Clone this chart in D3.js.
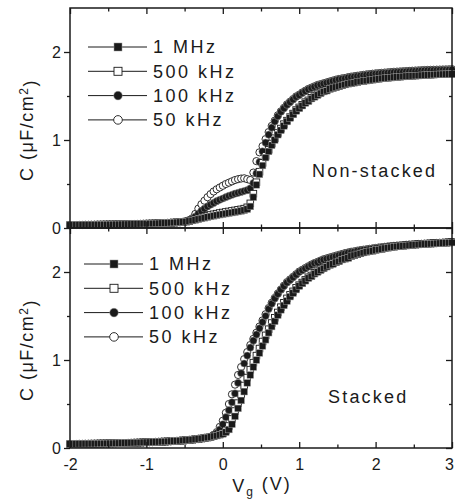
<!DOCTYPE html>
<html>
<head>
<meta charset="utf-8">
<script src="https://cdn.jsdelivr.net/npm/d3@7"></script>
<style>
  body { margin: 0; background: #fff; }
  svg text { font-family: Arial, "Liberation Sans", sans-serif; fill: #1a1a1a; }
</style>
</head>
<body>
<div id="chart"></div>
<script>
// gate voltage sweep (V)
var vg = [
  -2,-1.96,-1.92,-1.88,-1.84,-1.8,-1.76,-1.72,-1.68,-1.64,
  -1.6,-1.56,-1.52,-1.48,-1.44,-1.4,-1.36,-1.32,-1.28,-1.24,
  -1.2,-1.16,-1.12,-1.08,-1.04,-1,-0.96,-0.92,-0.88,-0.84,
  -0.8,-0.76,-0.72,-0.68,-0.64,-0.6,-0.56,-0.52,-0.48,-0.44,
  -0.4,-0.36,-0.32,-0.28,-0.24,-0.2,-0.16,-0.12,-0.08,-0.04,
  0,0.04,0.08,0.12,0.16,0.2,0.24,0.28,0.32,0.36,
  0.4,0.44,0.48,0.52,0.56,0.6,0.64,0.68,0.72,0.76,
  0.8,0.84,0.88,0.92,0.96,1,1.04,1.08,1.12,1.16,
  1.2,1.24,1.28,1.32,1.36,1.4,1.44,1.48,1.52,1.56,
  1.6,1.64,1.68,1.72,1.76,1.8,1.84,1.88,1.92,1.96,
  2,2.04,2.08,2.12,2.16,2.2,2.24,2.28,2.32,2.36,
  2.4,2.44,2.48,2.52,2.56,2.6,2.64,2.68,2.72,2.76,
  2.8,2.84,2.88,2.92,2.96,3
];

// C (uF/cm2), non-stacked
var nonStacked1MHz = [
  .033,.034,.034,.035,.035,.036,.036,.037,.037,.038,
  .038,.039,.039,.040,.040,.041,.041,.042,.043,.043,
  .044,.045,.046,.047,.048,.049,.050,.051,.052,.053,
  .055,.056,.058,.060,.062,.064,.066,.069,.072,.078,
  .085,.092,.100,.108,.116,.124,.131,.138,.145,.151,
  .157,.163,.169,.175,.181,.187,.194,.202,.214,.245,
  .35,.49,.61,.71,.80,.87,.94,1.00,1.06,1.11,
  1.16,1.21,1.25,1.29,1.33,1.36,1.39,1.42,1.44,1.47,
  1.49,1.51,1.53,1.55,1.56,1.58,1.59,1.60,1.61,1.62,
  1.63,1.64,1.645,1.65,1.66,1.665,1.67,1.675,1.68,1.685,
  1.69,1.695,1.70,1.703,1.706,1.71,1.713,1.716,1.719,1.722,
  1.725,1.727,1.729,1.731,1.733,1.735,1.737,1.739,1.741,1.743,
  1.745,1.746,1.747,1.748,1.749,1.75
];
var nonStacked500kHz = [
  .033,.034,.034,.035,.035,.036,.036,.037,.037,.038,
  .038,.039,.039,.040,.040,.041,.041,.042,.043,.043,
  .044,.045,.046,.047,.048,.049,.050,.051,.052,.053,
  .055,.056,.058,.060,.062,.064,.066,.069,.073,.080,
  .089,.099,.110,.121,.131,.140,.148,.156,.163,.170,
  .176,.182,.188,.194,.200,.206,.212,.220,.235,.28,
  .39,.52,.64,.74,.82,.89,.96,1.02,1.08,1.13,
  1.18,1.22,1.26,1.30,1.34,1.37,1.40,1.43,1.45,1.48,
  1.50,1.52,1.54,1.555,1.57,1.585,1.595,1.605,1.615,1.625,
  1.635,1.643,1.65,1.656,1.662,1.668,1.673,1.678,1.683,1.688,
  1.693,1.698,1.702,1.706,1.709,1.712,1.715,1.718,1.721,1.724,
  1.727,1.729,1.731,1.733,1.735,1.737,1.739,1.741,1.743,1.745,
  1.747,1.748,1.749,1.75,1.751,1.752
];
var nonStacked100kHz = [
  .033,.034,.034,.035,.035,.036,.036,.037,.037,.038,
  .038,.039,.039,.040,.040,.041,.041,.042,.043,.043,
  .044,.045,.046,.047,.048,.049,.050,.051,.052,.053,
  .055,.056,.058,.060,.062,.064,.066,.069,.075,.085,
  .10,.13,.165,.195,.22,.245,.265,.285,.305,.32,
  .335,.35,.365,.378,.39,.40,.41,.42,.43,.45,
  .51,.62,.75,.87,.97,1.06,1.14,1.21,1.27,1.32,
  1.36,1.40,1.43,1.46,1.49,1.51,1.535,1.555,1.575,1.59,
  1.605,1.62,1.63,1.64,1.65,1.66,1.67,1.68,1.69,1.695,
  1.70,1.71,1.715,1.72,1.725,1.73,1.735,1.74,1.744,1.748,
  1.752,1.755,1.758,1.761,1.764,1.767,1.77,1.772,1.774,1.776,
  1.778,1.78,1.782,1.784,1.786,1.788,1.79,1.791,1.792,1.793,
  1.794,1.795,1.796,1.797,1.798,1.80
];
var nonStacked50kHz = [
  .033,.034,.034,.035,.035,.036,.036,.037,.037,.038,
  .038,.039,.039,.040,.040,.041,.041,.042,.043,.043,
  .044,.045,.046,.047,.048,.049,.050,.051,.052,.053,
  .055,.056,.058,.060,.062,.064,.066,.069,.078,.09,
  .11,.16,.22,.27,.31,.35,.385,.415,.44,.46,
  .48,.50,.515,.53,.545,.555,.562,.565,.555,.545,
  .63,.76,.86,.93,1.01,1.09,1.16,1.22,1.28,1.325,
  1.365,1.405,1.435,1.465,1.495,1.515,1.54,1.56,1.58,1.595,
  1.61,1.625,1.635,1.645,1.655,1.665,1.675,1.685,1.694,1.70,
  1.705,1.714,1.72,1.725,1.73,1.735,1.74,1.745,1.749,1.753,
  1.757,1.76,1.763,1.766,1.769,1.772,1.775,1.777,1.779,1.781,
  1.783,1.785,1.787,1.789,1.791,1.793,1.795,1.796,1.797,1.798,
  1.799,1.80,1.801,1.802,1.803,1.805
];

// C (uF/cm2), stacked
var stacked1MHz = [
  .045,.046,.046,.047,.047,.048,.048,.049,.049,.050,
  .051,.051,.052,.053,.053,.054,.055,.056,.057,.058,
  .059,.060,.061,.062,.064,.065,.066,.067,.069,.070,
  .072,.073,.075,.077,.079,.081,.083,.086,.089,.092,
  .095,.099,.103,.108,.113,.119,.126,.133,.14,.15,
  .16,.18,.21,.27,.36,.45,.54,.64,.74,.83,
  .92,1.00,1.08,1.16,1.23,1.31,1.38,1.44,1.51,1.57,
  1.62,1.67,1.72,1.76,1.80,1.84,1.87,1.90,1.93,1.95,
  1.98,2.00,2.02,2.04,2.06,2.08,2.09,2.11,2.12,2.14,
  2.15,2.16,2.18,2.19,2.20,2.21,2.22,2.23,2.235,2.24,
  2.25,2.255,2.26,2.27,2.275,2.28,2.285,2.29,2.293,2.296,
  2.30,2.303,2.306,2.309,2.312,2.315,2.317,2.319,2.321,2.323,
  2.325,2.327,2.329,2.331,2.333,2.335
];
var stacked500kHz = [
  .045,.046,.046,.047,.047,.048,.048,.049,.049,.050,
  .051,.051,.052,.053,.053,.054,.055,.056,.057,.058,
  .059,.060,.061,.062,.064,.065,.066,.067,.069,.070,
  .072,.073,.075,.077,.079,.081,.083,.086,.089,.092,
  .095,.099,.103,.108,.113,.119,.126,.134,.145,.155,
  .17,.20,.25,.33,.42,.51,.61,.71,.80,.89,
  .97,1.05,1.13,1.21,1.28,1.35,1.42,1.48,1.54,1.60,
  1.65,1.70,1.74,1.78,1.82,1.85,1.88,1.91,1.94,1.96,
  1.99,2.01,2.03,2.05,2.07,2.085,2.10,2.115,2.13,2.145,
  2.155,2.165,2.185,2.195,2.205,2.215,2.225,2.233,2.24,2.245,
  2.254,2.26,2.265,2.274,2.279,2.284,2.289,2.293,2.296,2.299,
  2.303,2.306,2.309,2.312,2.315,2.318,2.32,2.322,2.324,2.326,
  2.328,2.33,2.332,2.334,2.336,2.338
];
var stacked100kHz = [
  .045,.046,.046,.047,.047,.048,.048,.049,.049,.050,
  .051,.051,.052,.053,.053,.054,.055,.056,.057,.058,
  .059,.060,.061,.062,.064,.065,.066,.067,.069,.070,
  .072,.073,.075,.077,.079,.081,.083,.086,.089,.092,
  .095,.099,.103,.108,.113,.119,.126,.15,.17,.21,
  .27,.35,.43,.52,.62,.74,.85,.96,1.05,1.14,
  1.22,1.29,1.36,1.43,1.50,1.58,1.64,1.70,1.75,1.80,
  1.84,1.88,1.91,1.94,1.97,2.00,2.02,2.04,2.06,2.08,
  2.10,2.11,2.13,2.14,2.15,2.16,2.17,2.18,2.19,2.20,
  2.21,2.22,2.225,2.23,2.24,2.245,2.25,2.255,2.26,2.265,
  2.27,2.275,2.28,2.284,2.288,2.292,2.295,2.298,2.301,2.304,
  2.307,2.31,2.312,2.314,2.316,2.318,2.32,2.322,2.324,2.326,
  2.328,2.33,2.332,2.334,2.336,2.34
];
var stacked50kHz = [
  .045,.046,.046,.047,.047,.048,.048,.049,.049,.050,
  .051,.051,.052,.053,.053,.054,.055,.056,.057,.058,
  .059,.060,.061,.062,.064,.065,.066,.067,.069,.070,
  .072,.073,.075,.077,.079,.081,.083,.086,.089,.092,
  .095,.099,.103,.108,.113,.119,.126,.15,.18,.24,
  .31,.40,.50,.61,.72,.83,.92,1.01,1.09,1.17,
  1.24,1.31,1.38,1.45,1.52,1.59,1.65,1.705,1.755,1.80,
  1.845,1.885,1.915,1.945,1.975,2.005,2.025,2.045,2.065,2.085,
  2.10,2.115,2.13,2.145,2.155,2.165,2.175,2.185,2.195,2.205,
  2.215,2.222,2.23,2.235,2.242,2.248,2.253,2.258,2.263,2.268,
  2.273,2.278,2.282,2.286,2.29,2.294,2.297,2.30,2.303,2.306,
  2.309,2.312,2.314,2.316,2.318,2.32,2.322,2.324,2.326,2.328,
  2.33,2.332,2.334,2.336,2.338,2.342
];

var freqLabels  = ["1 MHz", "500 kHz", "100 kHz", "50 kHz"];
var markerShape = ["square", "square", "circle", "circle"];
var markerFill  = [true, false, true, false];
var xTicks      = [-2, -1, 0, 1, 2, 3];
var xMinorTicks = [-1.5, -0.5, 0.5, 1.5, 2.5];
var yTicks      = [0, 1, 2];
var yMinorTicks = [0.5, 1.5];

var width = 455, height = 500;
var left = 70, right = 452;
var ink = "#1a1a1a";

var svg = d3.select("#chart").append("svg")
  .attr("width", width)
  .attr("height", height);

var x = d3.scaleLinear().domain([-2, 3]).range([left, right]);

var panels = [
  { title: "Non-stacked", top: 8, bottom: 228,
    series: [nonStacked1MHz, nonStacked500kHz, nonStacked100kHz, nonStacked50kHz],
    legendX: 88, legendY: 47, titleX: 312, titleY: 177, yLabelY: 130 },
  { title: "Stacked", top: 228, bottom: 448,
    series: [stacked1MHz, stacked500kHz, stacked100kHz, stacked50kHz],
    legendX: 84, legendY: 264, titleX: 328, titleY: 403, yLabelY: 350 }
];

function drawMarker(g, shape, filled, cx, cy, size) {
  var m;
  if (shape === "square") {
    m = g.append("rect")
      .attr("x", cx - size / 2).attr("y", cy - size / 2)
      .attr("width", size).attr("height", size);
  } else {
    m = g.append("circle")
      .attr("cx", cx).attr("cy", cy).attr("r", size / 2 + 0.3);
  }
  m.attr("fill", filled ? ink : "#fff")
   .attr("stroke", filled ? "#999" : ink)
   .attr("stroke-width", filled ? 0.5 : 0.9);
}

function styleAxis(a) {
  a.select(".domain").remove();
  a.selectAll(".tick line").attr("stroke", ink).attr("stroke-width", 1.3);
  a.selectAll(".tick text")
    .attr("fill", ink)
    .style("font-size", "16px");
}

panels.forEach(function(p, pi) {
  var y = d3.scaleLinear().domain([0, 2.5]).range([p.bottom, p.top]);
  var g = svg.append("g");

  // data, lowest frequency first so 1 MHz ends up on top
  for (var s = 3; s >= 0; s--) {
    var sg = g.append("g");
    var vals = p.series[s];
    for (var i = 0; i < vg.length; i++) {
      drawMarker(sg, markerShape[s], markerFill[s], x(vg[i]), y(vals[i]), 6.6);
    }
  }

  // axes
  var fmt = function(d) { return String(d); };
  g.append("g").attr("transform", "translate(" + left + ",0)")
    .call(d3.axisLeft(y).tickValues(yTicks).tickSize(6).tickPadding(3).tickFormat(fmt))
    .call(styleAxis);
  g.append("g").attr("transform", "translate(" + left + ",0)")
    .call(d3.axisLeft(y).tickValues(yMinorTicks).tickSize(3).tickFormat(""))
    .call(styleAxis);
  g.append("g").attr("transform", "translate(" + right + ",0)")
    .call(d3.axisRight(y).tickValues(yTicks).tickSize(-6).tickFormat(""))
    .call(styleAxis);
  g.append("g").attr("transform", "translate(" + right + ",0)")
    .call(d3.axisRight(y).tickValues(yMinorTicks).tickSize(-3).tickFormat(""))
    .call(styleAxis);
  g.append("g").attr("transform", "translate(0," + p.top + ")")
    .call(d3.axisTop(x).tickValues(xTicks).tickSize(-6).tickFormat(""))
    .call(styleAxis);
  g.append("g").attr("transform", "translate(0," + p.top + ")")
    .call(d3.axisTop(x).tickValues(xMinorTicks).tickSize(-3.5).tickFormat(""))
    .call(styleAxis);
  var xb = g.append("g").attr("transform", "translate(0," + p.bottom + ")")
    .call(d3.axisBottom(x).tickValues(xTicks).tickSize(-6).tickPadding(11)
      .tickFormat(pi === 1 ? fmt : ""))
    .call(styleAxis);
  // keep the last label inside the window
  xb.selectAll(".tick text").filter(function(d) { return d === 3; }).attr("dx", "-3");
  g.append("g").attr("transform", "translate(0," + p.bottom + ")")
    .call(d3.axisBottom(x).tickValues(xMinorTicks).tickSize(-3.5).tickFormat(""))
    .call(styleAxis);

  // frame
  g.append("rect")
    .attr("x", left).attr("y", p.top)
    .attr("width", right - left).attr("height", p.bottom - p.top)
    .attr("fill", "none").attr("stroke", ink).attr("stroke-width", 1.5);

  // legend
  freqLabels.forEach(function(lab, k) {
    var ly = p.legendY + k * 24.3;
    g.append("line")
      .attr("x1", p.legendX).attr("x2", p.legendX + 59)
      .attr("y1", ly).attr("y2", ly)
      .attr("stroke", ink).attr("stroke-width", 1);
    drawMarker(g, markerShape[k], markerFill[k], p.legendX + 30, ly, 8);
    g.append("text")
      .attr("x", p.legendX + 65).attr("y", ly)
      .attr("dy", "0.36em")
      .style("font-size", "18px").style("letter-spacing", "2.5px")
      .text(lab);
  });

  // panel title
  g.append("text")
    .attr("x", p.titleX).attr("y", p.titleY)
    .style("font-size", "18px").style("letter-spacing", "2.2px")
    .text(p.title);

  // y label
  var yl = g.append("text")
    .attr("transform", "translate(27," + p.yLabelY + ") rotate(-90)")
    .attr("text-anchor", "middle")
    .attr("dy", "0.36em")
    .style("font-size", "18px").style("letter-spacing", "1.5px");
  yl.append("tspan").text("C (\u03bcF/cm");
  yl.append("tspan").attr("dy", "-0.45em").style("font-size", "12px").text("2");
  yl.append("tspan").attr("dy", "0.45em").text(")");
});

// x label
var xl = svg.append("text")
  .attr("x", 262).attr("y", 492)
  .attr("text-anchor", "middle")
  .style("font-size", "18px").style("letter-spacing", "2px");
xl.append("tspan").text("V");
xl.append("tspan").attr("dy", "0.35em").style("font-size", "12px").text("g");
xl.append("tspan").attr("dy", "-0.35em").text(" (V)");
</script>
</body>
</html>
